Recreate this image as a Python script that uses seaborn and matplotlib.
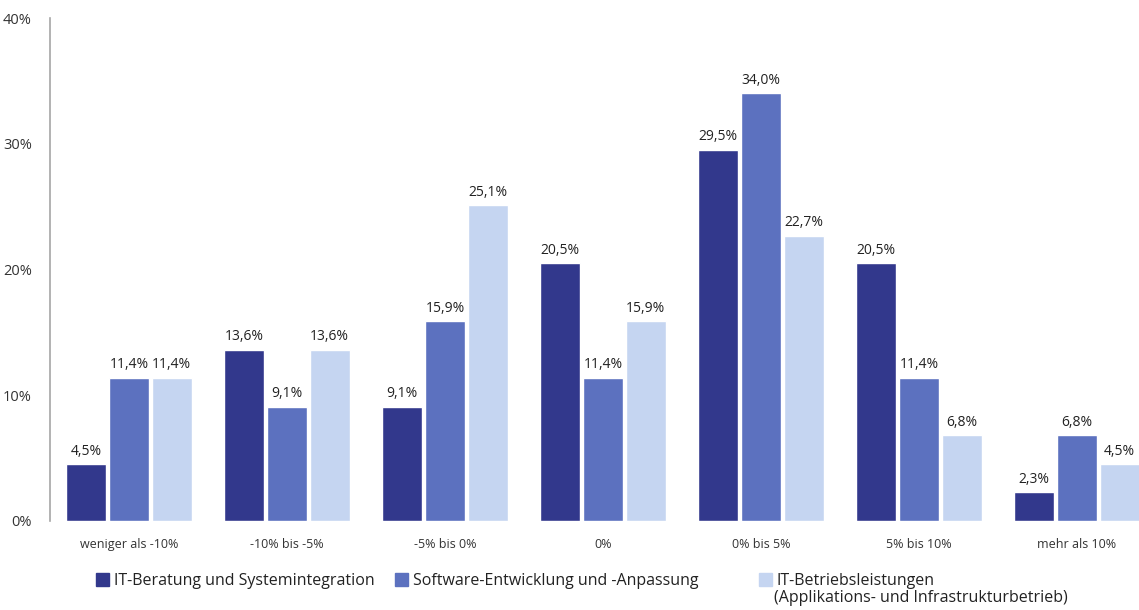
import pandas as pd
import matplotlib.pyplot as plt
import seaborn as sns

categories = ["weniger als -10%", "-10% bis -5%", "-5% bis 0%", "0%",
              "0% bis 5%", "5% bis 10%", "mehr als 10%"]
series = ["IT-Beratung und Systemintegration",
          "Software-Entwicklung und -Anpassung",
          "IT-Betriebsleistungen"]
series3_line2 = "(Applikations- und Infrastrukturbetrieb)"
beratung = [4.5, 13.6, 9.1, 20.5, 29.5, 20.5, 2.3]
software = [11.4, 9.1, 15.9, 11.4, 34.0, 11.4, 6.8]
betrieb = [11.4, 13.6, 25.1, 15.9, 22.7, 6.8, 4.5]
yticks = [0, 10, 20, 30, 40]

colors = ["#32388C", "#5C71BF", "#C5D5F1"]

df = pd.DataFrame({
    "cat": categories * 3,
    "series": [series[0]] * 7 + [series[1]] * 7 + [series[2]] * 7,
    "value": beratung + software + betrieb,
})

sns.set_theme(style="white")
plt.rcParams["font.family"] = ["Open Sans", "DejaVu Sans"]

fig = plt.figure(figsize=(11.39, 6.10), dpi=100)
ax = fig.add_axes([50 / 1139, 1 - 521 / 610, 1106 / 1139, 503 / 610])

sns.barplot(data=df, x="cat", y="value", hue="series", order=categories,
            hue_order=series, palette=colors, width=0.81, gap=0.06,
            saturation=1, legend=False, ax=ax)

for cont in ax.containers:
    labels = [f"{b.get_height():.1f}%".replace(".", ",") for b in cont]
    ax.bar_label(cont, labels=labels, padding=4, fontsize=10, color="#222222")

ax.set_xlim(-0.5, 6.5)
ax.set_ylim(0, 40)
ax.set_yticks(yticks)
ax.set_yticklabels([f"{t}%" for t in yticks], fontsize=10.5, color="#333333")
ax.tick_params(axis="y", length=0, pad=13)
ax.tick_params(axis="x", length=0, pad=12, labelsize=9, labelcolor="#333333")
ax.set_xlabel("")
ax.set_ylabel("")
for s in ["top", "right", "bottom"]:
    ax.spines[s].set_visible(False)
ax.spines["left"].set_color("#A6A6A6")
ax.spines["left"].set_linewidth(1.2)

handles = [plt.Rectangle((0, 0), 1, 1, color=c) for c in colors]
leg_x = [88, 387, 751]
for h, lab, x in zip(handles, series, leg_x):
    fig.legend([h], [lab], loc="upper left",
               bbox_to_anchor=(x / 1139, 1 - 565 / 610),
               frameon=False, fontsize=11.5, handlelength=0.8,
               handleheight=0.8, handletextpad=0.3, borderpad=0,
               labelcolor="#222222")
fig.text(774 / 1139, 1 - 598 / 610, series3_line2, fontsize=11.5,
         color="#222222", va="center", ha="left")

fig.savefig("out.png", dpi=100)
plt.close()
